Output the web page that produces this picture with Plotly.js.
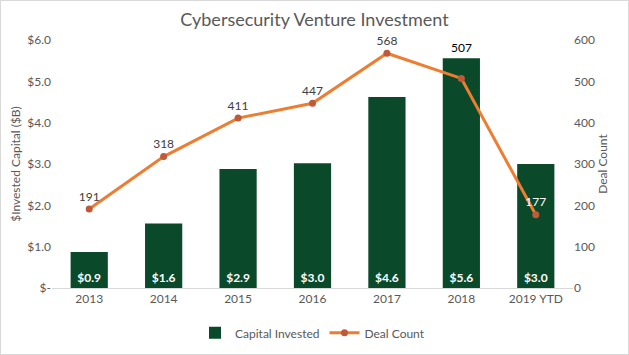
<!DOCTYPE html>
<html><head><meta charset="utf-8">
<script src="https://cdn.plot.ly/plotly-3.0.1.min.js"></script>
<style>body{margin:0;background:#fff}#c{width:629px;height:355px;box-sizing:border-box;border:1px solid #d9d9d9}</style>
</head><body><div id="c"></div>
<script>
const years = ['2013','2014','2015','2016','2017','2018','2019 YTD'];
const capital = [0.87, 1.56, 2.88, 3.02, 4.62, 5.56, 3.0];
const deals = [191, 318, 411, 447, 568, 507, 177];
const leftTickVals = [0,1,2,3,4,5,6];
const leftTickText = ['$-','$1.0','$2.0','$3.0','$4.0','$5.0','$6.0'];
const rightTickVals = [0,100,200,300,400,500,600];

const green = '#0a4a2a', orange = '#ed7d31';
const dealLabelColors = ['#404040','#404040','#404040','#404040','#404040','#000000','#ffffff'];
const raised = 5; // index of label drawn above the bar

const traces = [
 {type:'bar', x:years, y:capital, name:'Capital Invested', marker:{color:green}, width:0.5,
  texttemplate:'$%{y:.1f}', textposition:'inside', insidetextanchor:'start',
  textfont:{color:'#ffffff', size:12, family:'Lato, Calibri, sans-serif', weight:'bold'},
  hoverinfo:'skip'},
 {type:'scatter', mode:'lines+markers+text', x:years, y:deals, yaxis:'y2', name:'Deal Count',
  line:{color:orange, width:3}, marker:{color:'#c0583a', size:7},
  text:deals.map((d,i)=> i===raised ? '' : String(d)), textposition:'top center',
  textfont:{color:dealLabelColors, size:12, family:'Lato, Calibri, sans-serif'}, cliponaxis:false}
];
const layout = {
 width:627, height:353,
 margin:{l:51, r:55, t:39, b:66},
 paper_bgcolor:'#fff', plot_bgcolor:'#fff',
 font:{family:'Lato, Calibri, sans-serif', color:'#595959', size:12},
 title:{text:'Cybersecurity Venture Investment', x:0.5, xanchor:'center', y:0.965, yanchor:'top', font:{size:18, color:'#595959'}},
 xaxis:{type:'category', categoryarray:years, range:[-0.5, years.length-0.5], showgrid:false, showline:true, linecolor:'#d9d9d9', ticks:'', tickfont:{size:12}},
 yaxis:{range:[0,6], tickvals:leftTickVals, ticktext:leftTickText, showgrid:false, zeroline:false, ticks:'',
   title:{text:'$Invested Capital ($B)', font:{size:12}, standoff:4}},
 yaxis2:{range:[0,600], tickvals:rightTickVals, overlaying:'y', side:'right', showgrid:false, zeroline:false, ticks:'',
   title:{text:'Deal Count', font:{size:12}, standoff:4}},
 annotations:[{x:raised, y:deals[raised], xref:'x', yref:'y2', text:String(deals[raised]),
   showarrow:false, yshift:31, font:{size:12, color:dealLabelColors[raised]}}],
 legend:{orientation:'h', x:0.5, xanchor:'center', yref:'container', y:0.06, yanchor:'middle', font:{size:12}},
 showlegend:true
};
Plotly.newPlot('c', traces, layout, {displayModeBar:false, staticPlot:true});
</script></body></html>
